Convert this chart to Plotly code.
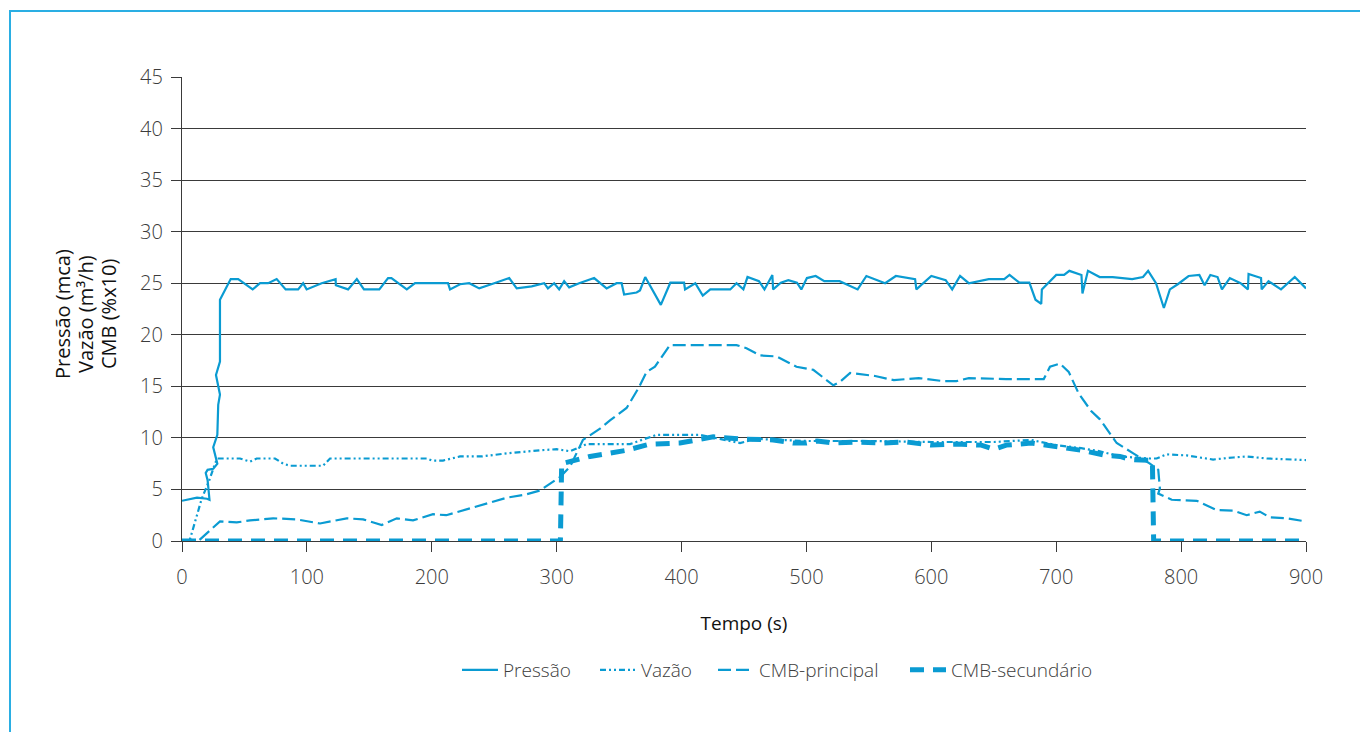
import plotly.graph_objects as go

# Pressão (mca)
t_pressao = [0, 12, 20, 22, 20.5, 19, 20.5, 25, 28.3, 25.9, 25, 28.3, 29, 30.4, 27.2, 30.4, 30.4,
             39, 45, 56.6, 62.5, 69, 75.8, 83, 93, 97, 99.8, 111.8, 123, 123.2, 133, 140, 145.7,
             158, 165, 167.7, 180, 186.6, 213, 214.6, 222.6, 230, 238, 250, 262, 268, 280, 290,
             293, 298, 302, 306, 310, 318, 330, 340, 348, 352, 354, 364, 366.7, 370.9, 383.4,
             391, 402, 402.8, 411, 417, 423, 439, 444, 449.5, 452.8, 462, 466.4, 472.7, 473.3,
             479.5, 485.5, 492.4, 495.9, 500.4, 507.4, 514.3, 526.5, 541, 548, 563, 571.6, 587,
             588, 600, 611.5, 616.7, 623, 630, 646, 658.4, 662.6, 670.5, 678.5, 683.4, 688,
             688.5, 700, 706.3, 710.5, 720.2, 721, 725.4, 734.8, 745.2, 760.8, 769.5, 773.6,
             779.9, 782.7, 786.2, 791, 797.3, 806, 814.6, 818.8, 823.4, 829.2, 832.7, 839,
             847.6, 853.5, 854, 864, 864.5, 870, 880, 891, 900]
v_pressao = [3.9, 4.2, 4.1, 4.0, 5.9, 6.6, 6.9, 7.0, 7.5, 8.5, 9.1, 10.3, 13.2, 14.2, 16.1, 17.4, 23.4,
             25.4, 25.4, 24.4, 25.0, 25.0, 25.4, 24.4, 24.4, 25.0, 24.4, 25.0, 25.4, 24.8, 24.4, 25.4, 24.4,
             24.4, 25.5, 25.5, 24.4, 25.0, 25.0, 24.4, 24.9, 25.0, 24.5, 25.0, 25.5, 24.5, 24.7, 25.0,
             24.5, 25.0, 24.4, 25.2, 24.6, 25.0, 25.5, 24.5, 25.0, 25.0, 23.9, 24.1, 24.3, 25.6, 22.9,
             25.05, 25.05, 24.4, 25.0, 23.8, 24.4, 24.4, 25.0, 24.4, 25.6, 25.2, 24.4, 25.8, 24.4,
             25.05, 25.3, 25.05, 24.4, 25.5, 25.7, 25.2, 25.2, 24.4, 25.7, 25.0, 25.7, 25.4,
             24.4, 25.7, 25.3, 24.4, 25.7, 25.0, 25.4, 25.4, 25.8, 25.05, 25.05, 23.4, 23.0,
             24.4, 25.8, 25.8, 26.2, 25.8, 24.0, 26.2, 25.6, 25.6, 25.4, 25.6, 26.2,
             25.0, 23.9, 22.6, 24.4, 24.9, 25.7, 25.8, 24.8, 25.8, 25.6, 24.4, 25.5,
             25.0, 24.4, 25.9, 25.5, 24.4, 25.2, 24.4, 25.6, 24.5]

# Vazão (m³/h)
t_vazao = [0, 6, 15.8, 21.9, 26.4, 28.3, 46.4, 54.5, 59.8, 74.5, 81, 86.4, 113, 118.5, 196, 200,
           209, 222.6, 240, 260, 286.6, 300, 310.7, 316, 324, 358.7, 374.7, 380, 414.8, 446.8,
           460, 500, 550, 600, 650, 680, 700, 720, 735, 751, 775, 780.4, 788.4, 804.5, 815,
           825.6, 841.8, 852.5, 868.5, 900]
v_vazao = [0, 0, 4.1, 5.9, 7.5, 8.0, 8.0, 7.7, 8.0, 8.0, 7.5, 7.3, 7.3, 8.0, 8.0, 7.8,
           7.8, 8.2, 8.2, 8.5, 8.8, 8.9, 8.7, 9.0, 9.4, 9.4, 10.1, 10.3, 10.3, 9.5,
           9.9, 9.7, 9.7, 9.6, 9.6, 9.8, 9.3, 9.0, 8.7, 8.2, 8.0, 8.0, 8.4, 8.3, 8.1,
           7.9, 8.1, 8.2, 8.0, 7.85]

# CMB-principal (%x10)
t_principal = [0, 13, 30.4, 43.8, 54.5, 73, 91.8, 110.5, 131.9, 145, 160, 172, 185, 201, 211.6,
               222.6, 240, 260, 275, 286.6, 302.7, 310.7, 321, 334.7, 342.7, 356, 365.4, 372,
               378.7, 390.7, 444, 452, 462.8, 476, 492, 505.5, 521.5, 527, 535, 555, 570, 590,
               610, 620, 630, 660, 690, 695, 703, 710, 718, 728, 735, 744.4, 748.4, 761.7,
               775, 781.7, 783, 781.7, 792.5, 812.5, 828.5, 842, 852.5, 863, 871, 884.5, 900]
v_principal = [0, 0, 1.9, 1.8, 2.0, 2.2, 2.1, 1.7, 2.2, 2.1, 1.55, 2.2, 2.0, 2.6, 2.5,
               2.9, 3.5, 4.2, 4.5, 4.9, 6.2, 7.2, 9.8, 10.9, 11.7, 12.9, 14.8, 16.4,
               16.9, 19.0, 19.0, 18.7, 18.0, 17.9, 16.9, 16.6, 15.1, 15.45, 16.3, 16.0, 15.6, 15.8,
               15.5, 15.5, 15.8, 15.7, 15.7, 16.9, 17.2, 16.4, 14.3, 12.6, 11.8, 10.1, 9.5, 8.5,
               7.5, 6.9, 5.1, 4.6, 4.0, 3.9, 3.0, 2.95, 2.5, 2.85, 2.3, 2.2, 1.9]

# CMB-secundário (%x10)
t_secundario = [0, 303, 304, 310.7, 326.7, 356, 374.7, 398.7, 425.4, 446.8, 473.5, 489.5, 500,
                508.5, 521.5, 540, 560, 580, 600, 620, 640, 650, 660, 680, 700, 720, 740, 751,
                760, 772.5, 777, 778, 900]
v_secundario = [0, 0, 7.5, 7.7, 8.2, 8.8, 9.4, 9.5, 10.1, 9.9, 9.8, 9.5, 9.5,
                9.7, 9.5, 9.6, 9.5, 9.6, 9.3, 9.4, 9.3, 8.9, 9.3, 9.5, 9.2, 8.8, 8.3, 8.2,
                7.9, 7.9, 7.8, 0, 0]

x_ticks = [0, 100, 200, 300, 400, 500, 600, 700, 800, 900]
y_ticks = [0, 5, 10, 15, 20, 25, 30, 35, 40, 45]
y_title_lines = ["Pressão (mca)", "Vazão (m³/h)", "CMB (%x10)"]

BLUE = "#0a9bd2"
FRAME = "#2aaee3"
GRID = "#3a3a3a"
FAMILY = "Open Sans"
TICK_FONT = dict(family=FAMILY, size=20, color="#3c3c3c", weight=300)
LEGEND_FONT = dict(family=FAMILY, size=19, color="#3c3c3c", weight=300)
TITLE_FONT = dict(family=FAMILY, size=19, color="#111111")
Y_TITLE_FONT = dict(family=FAMILY, size=20, color="#111111")

W, H = 1360, 732
ML, MR, MT, MB = 182, 54, 77, 191
PW, PH = W - ML - MR, H - MT - MB


def px_to_paper_x(px):
    return (px - ML) / PW


def px_to_paper_y(py):
    return (H - MB - py) / PH


series = [
    ("Pressão", t_pressao, v_pressao, dict(color=BLUE, width=2.2), "legend", 457),
    ("Vazão", t_vazao, v_vazao, dict(color=BLUE, width=2.2, dash="6px,3px,2px,3px,2px,3px"), "legend2", 595),
    ("CMB-principal", t_principal, v_principal, dict(color=BLUE, width=2.2, dash="13px,5px"), "legend3", 713),
    ("CMB-secundário", t_secundario, v_secundario, dict(color=BLUE, width=5, dash="14px,9px"), "legend4", 905),
]

fig = go.Figure()
legend_layout = {}
for name, xs, ys, line, legend_id, legend_px in series:
    fig.add_trace(go.Scatter(x=xs, y=ys, mode="lines", name=name, line=line, legend=legend_id))
    legend_layout[legend_id] = dict(
        orientation="h", x=px_to_paper_x(legend_px), xanchor="left",
        y=px_to_paper_y(670), yanchor="middle", font=LEGEND_FONT,
        itemwidth=36, bgcolor="rgba(0,0,0,0)", borderwidth=0,
    )

# Three-line y-axis title, one rotated line each
y_title_annotations = [
    dict(text=txt, xref="paper", yref="paper", x=px_to_paper_x(px), y=px_to_paper_y(314),
         xanchor="center", yanchor="middle", textangle=-90, showarrow=False, font=Y_TITLE_FONT)
    for txt, px in zip(y_title_lines, [62, 85, 108])
]

fig.update_layout(
    width=W, height=H,
    margin=dict(l=ML, r=MR, t=MT, b=MB),
    paper_bgcolor="white", plot_bgcolor="white",
    showlegend=True,
    annotations=y_title_annotations,
    shapes=[
        dict(type="line", xref="paper", yref="paper",
             x0=px_to_paper_x(10), x1=px_to_paper_x(1362),
             y0=px_to_paper_y(11), y1=px_to_paper_y(11),
             line=dict(color=FRAME, width=2)),
        dict(type="line", xref="paper", yref="paper",
             x0=px_to_paper_x(10), x1=px_to_paper_x(10),
             y0=px_to_paper_y(10), y1=px_to_paper_y(734),
             line=dict(color=FRAME, width=2)),
    ],
    **legend_layout,
)

fig.update_xaxes(
    range=[0, 900], tickvals=x_ticks, ticktext=[str(v) for v in x_ticks],
    showgrid=False, zeroline=False,
    showline=True, linecolor=GRID, linewidth=1.2,
    ticks="outside", ticklen=10, tickcolor=GRID, tickwidth=1.2,
    tickfont=TICK_FONT, ticklabelstandoff=8,
    title=dict(text="Tempo (s)", font=TITLE_FONT, standoff=27),
)
fig.update_yaxes(
    range=[0, 45], tickvals=y_ticks, ticktext=[str(v) for v in y_ticks],
    showgrid=True, gridcolor=GRID, gridwidth=1.2, zeroline=False,
    showline=True, linecolor=GRID, linewidth=1.2,
    ticks="outside", ticklen=10, tickcolor=GRID, tickwidth=1.2,
    tickfont=TICK_FONT, ticklabelstandoff=4,
)

fig.write_html("out.html")
